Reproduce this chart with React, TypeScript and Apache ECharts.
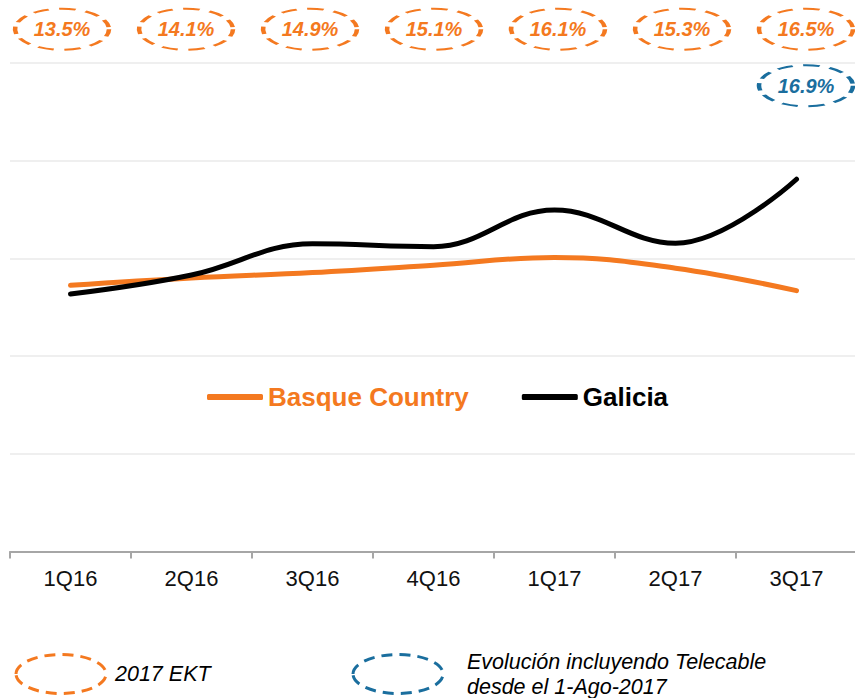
import React, { useEffect, useRef } from "react";
import * as echarts from "echarts";

const categories = ["1Q16", "2Q16", "3Q16", "4Q16", "1Q17", "2Q17", "3Q17"];
const basqueCountry = [54.5, 56.0, 57.1, 58.6, 60.2, 58.0, 53.4];
const galicia = [52.7, 56.6, 63.0, 62.4, 69.9, 63.1, 76.2];
const ektRates = [13.5, 14.1, 14.9, 15.1, 16.1, 15.3, 16.5];
const telecableRates = [null, null, null, null, null, null, 16.9];
const annotationRows = ["2017 EKT", "Telecable"];

const ORANGE = "#F47920";
const BLUE = "#1A6E9E";
const FONT = "'Liberation Sans', Arial, sans-serif";

export default function App() {
  const ref = useRef<HTMLDivElement>(null);
  useEffect(() => {
    if (!ref.current) return;
    const chart = echarts.init(ref.current, null, { renderer: "svg" });
    const ektData = categories.map((c, i) => [c, annotationRows[0], ektRates[i]]);
    const telData = categories
      .map((c, i) => (telecableRates[i] == null ? null : [c, annotationRows[1], telecableRates[i]]))
      .filter((d) => d != null);
    const ellipseLabel = (color: string) => ({
      show: true,
      position: "inside",
      formatter: (p: any) => Number(p.value[2]).toFixed(1) + "%",
      fontFamily: FONT,
      fontStyle: "italic",
      fontWeight: "bold",
      fontSize: 20,
      color,
      opacity: 1,
    });
    chart.setOption({
      animation: false,
      textStyle: { fontFamily: FONT },
      grid: [
        { left: 10, right: -2, top: 63, bottom: 146.5, containLabel: false, outerBoundsMode: "none" },
        { left: 0, width: 868, top: 1, height: 113, containLabel: false, outerBoundsMode: "none" },
      ],
      xAxis: [
        {
          type: "category",
          gridIndex: 0,
          data: categories,
          axisLine: { lineStyle: { color: "#a6a6a6", width: 2 } },
          axisTick: { show: true, length: 7, lineStyle: { color: "#a6a6a6", width: 2 } },
          axisLabel: { color: "#111", fontSize: 22, margin: 16, fontFamily: FONT },
          splitLine: { show: false },
        },
        { type: "category", gridIndex: 1, data: categories, show: false },
      ],
      yAxis: [
        {
          type: "value",
          gridIndex: 0,
          min: 0,
          max: 100,
          interval: 20,
          axisLine: { show: false },
          axisTick: { show: false },
          axisLabel: { show: false },
          splitLine: { lineStyle: { color: "#efefef", width: 2 } },
        },
        { type: "category", gridIndex: 1, data: annotationRows, inverse: true, show: false },
      ],
      legend: {
        left: 207,
        top: 384,
        padding: 0,
        itemWidth: 56,
        itemHeight: 6,
        itemGap: 53,
        icon: "roundRect",
        textStyle: { fontSize: 26, fontWeight: "bold", fontFamily: FONT },
        data: [
          { name: "Basque Country", textStyle: { color: ORANGE } },
          { name: "Galicia", textStyle: { color: "#000" } },
        ],
      },
      series: [
        {
          name: "Basque Country",
          type: "line",
          xAxisIndex: 0,
          yAxisIndex: 0,
          data: basqueCountry,
          smooth: 0.4,
          showSymbol: false,
          symbol: "none",
          itemStyle: { color: ORANGE },
          lineStyle: { color: ORANGE, width: 5, cap: "round" },
        },
        {
          name: "Galicia",
          type: "line",
          xAxisIndex: 0,
          yAxisIndex: 0,
          data: galicia,
          smooth: 0.4,
          showSymbol: false,
          symbol: "none",
          itemStyle: { color: "#000" },
          lineStyle: { color: "#000", width: 5, cap: "round" },
        },
        {
          name: "EKT",
          type: "scatter",
          xAxisIndex: 1,
          yAxisIndex: 1,
          data: ektData,
          symbol: "circle",
          symbolSize: [94, 41],
          itemStyle: {
            color: "rgba(255,255,255,0)",
            borderColor: ORANGE,
            borderWidth: 3,
            borderType: [11, 7],
            opacity: 1,
          },
          label: ellipseLabel(ORANGE),
          emphasis: { disabled: true },
        },
        {
          name: "Telecable",
          type: "scatter",
          xAxisIndex: 1,
          yAxisIndex: 1,
          data: telData,
          symbol: "circle",
          symbolSize: [94, 41],
          itemStyle: {
            color: "rgba(255,255,255,0)",
            borderColor: BLUE,
            borderWidth: 3,
            borderType: [11, 7],
            opacity: 1,
          },
          label: ellipseLabel(BLUE),
          emphasis: { disabled: true },
        },
      ],
      graphic: [
        {
          type: "ellipse",
          shape: { cx: 61, cy: 674, rx: 45, ry: 19.5 },
          style: { fill: "none", stroke: ORANGE, lineWidth: 3, lineDash: [11, 7] },
        },
        {
          type: "text",
          x: 115,
          y: 674,
          style: {
            text: "2017 EKT",
            font: `italic 21.5px ${FONT}`,
            fill: "#000",
            verticalAlign: "middle",
          },
        },
        {
          type: "ellipse",
          shape: { cx: 398, cy: 674, rx: 45, ry: 19.5 },
          style: { fill: "none", stroke: BLUE, lineWidth: 3, lineDash: [11, 7] },
        },
        {
          type: "text",
          x: 467,
          y: 662,
          style: {
            text: "Evolución incluyendo Telecable",
            font: `italic 21.5px ${FONT}`,
            fill: "#000",
            verticalAlign: "middle",
          },
        },
        {
          type: "text",
          x: 467,
          y: 687,
          style: {
            text: "desde el 1-Ago-2017",
            font: `italic 21.5px ${FONT}`,
            fill: "#000",
            verticalAlign: "middle",
          },
        },
      ],
    });
    return () => chart.dispose();
  }, []);
  return (
    <div
      ref={ref}
      style={{ position: "absolute", left: 0, top: 0, width: 855, height: 698, background: "#fff" }}
    />
  );
}
